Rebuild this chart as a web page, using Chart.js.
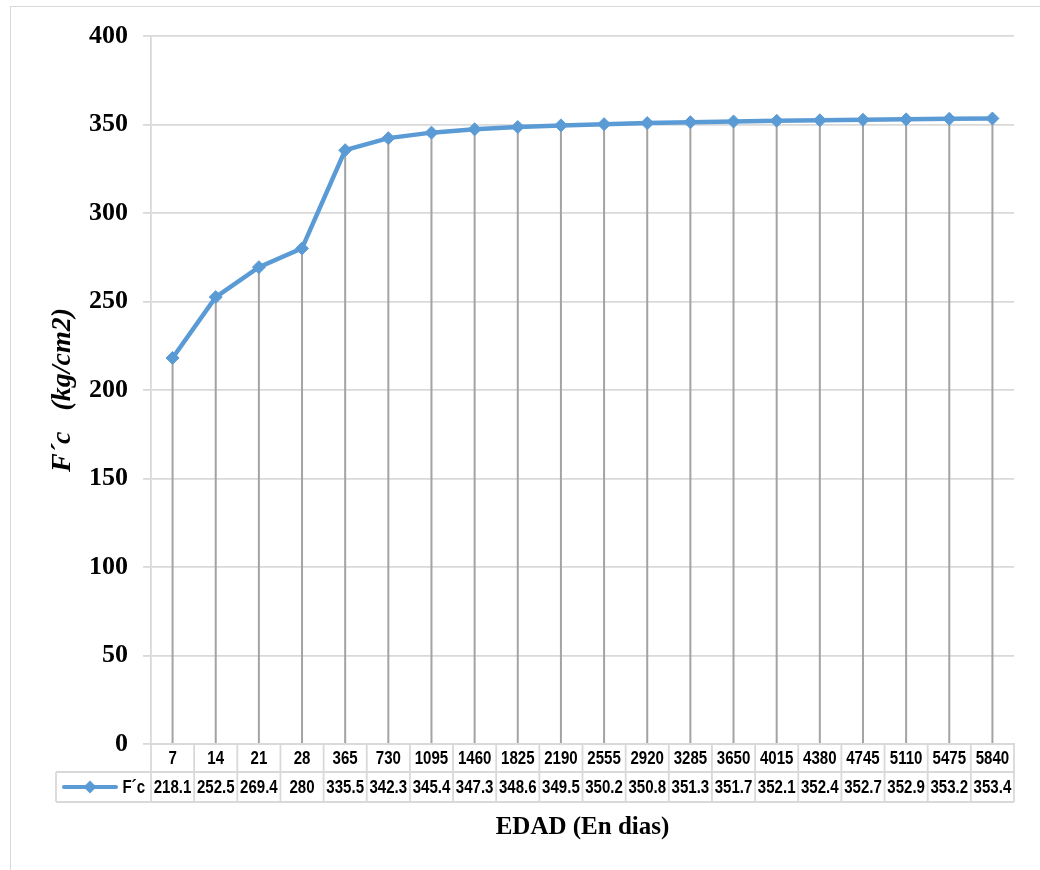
<!DOCTYPE html>
<html>
<head>
<meta charset="utf-8">
<script src="https://cdn.jsdelivr.net/npm/chart.js@4/dist/chart.umd.min.js"></script>
<style>
  html, body { margin: 0; padding: 0; background: #ffffff; }
  #wrap { position: relative; width: 1040px; height: 870px; overflow: hidden; }
  #frame { position: absolute; left: 10px; top: 6px; width: 1100px; height: 1000px;
           border: 1.5px solid #d9d9d9; box-sizing: border-box; }
  #c { position: absolute; left: 0; top: 0; }
</style>
</head>
<body>
<div id="wrap">
  <div id="frame"></div>
  <canvas id="c" width="1040" height="870"></canvas>
</div>
<script>
// Age of the concrete (days) and compressive strength F´c (kg/cm2)
const edadDias = ['7', '14', '21', '28', '365', '730', '1095', '1460', '1825', '2190',
                  '2555', '2920', '3285', '3650', '4015', '4380', '4745', '5110', '5475', '5840'];
const resistencia = [218.1, 252.5, 269.4, 280, 335.5, 342.3, 345.4, 347.3, 348.6, 349.5,
                     350.2, 350.8, 351.3, 351.7, 352.1, 352.4, 352.7, 352.9, 353.2, 353.4];
const serieNombre = 'F´c';
const yTicks = [0, 50, 100, 150, 200, 250, 300, 350, 400];

const LINE_COLOR = '#5b9bd5';
const GRID_COLOR = '#d9d9d9';
const DROP_COLOR = '#a3a3a3';

// Vertical drop lines from each point down to the category axis
const dropLines = {
  id: 'dropLines',
  beforeDatasetsDraw(chart) {
    const ctx = chart.ctx;
    const y = chart.scales.y;
    const base = y.getPixelForValue(0);
    const meta = chart.getDatasetMeta(0);
    ctx.save();
    ctx.strokeStyle = DROP_COLOR;
    ctx.lineWidth = 2;
    meta.data.forEach(pt => {
      ctx.beginPath();
      ctx.moveTo(pt.x, pt.y);
      ctx.lineTo(pt.x, base);
      ctx.stroke();
    });
    ctx.restore();
  }
};

// Data table under the category axis (labels row + values row + legend key)
const dataTable = {
  id: 'dataTable',
  afterDraw(chart) {
    const ctx = chart.ctx;
    const x = chart.scales.x;
    const n = edadDias.length;
    const colW = (x.right - x.left) / n;
    const top = chart.scales.y.getPixelForValue(0);
    const mid = top + 28;
    const bot = mid + 30;
    const keyLeft = 56;

    ctx.save();
    ctx.strokeStyle = GRID_COLOR;
    ctx.lineWidth = 1.8;
    ctx.beginPath();
    // horizontal rules
    ctx.moveTo(x.left, top); ctx.lineTo(x.right, top);
    ctx.moveTo(keyLeft, mid); ctx.lineTo(x.right, mid);
    ctx.moveTo(keyLeft, bot); ctx.lineTo(x.right, bot);
    // vertical rules
    for (let i = 0; i <= n; i++) {
      const xx = x.left + i * colW;
      ctx.moveTo(xx, top); ctx.lineTo(xx, bot);
    }
    ctx.moveTo(keyLeft, mid); ctx.lineTo(keyLeft, bot);
    ctx.stroke();

    // cell texts
    ctx.fillStyle = '#000000';
    ctx.font = 'bold 17.5px "Liberation Sans", Arial, sans-serif';
    ctx.textBaseline = 'middle';
    const put = (txt, cx, cy, align) => {
      ctx.save();
      ctx.translate(cx, cy);
      ctx.scale(0.86, 1);
      ctx.textAlign = align || 'center';
      ctx.fillText(txt, 0, 0);
      ctx.restore();
    };
    for (let i = 0; i < n; i++) {
      const cx = x.left + (i + 0.5) * colW;
      put(edadDias[i], cx, (top + mid) / 2 + 1);
      put(String(resistencia[i]), cx, (mid + bot) / 2 + 1);
    }
    put(serieNombre, x.left - 6, (mid + bot) / 2 + 1, 'right');

    // legend key: line with diamond marker
    const ky = (mid + bot) / 2;
    ctx.strokeStyle = LINE_COLOR;
    ctx.lineWidth = 4;
    ctx.lineCap = 'round';
    ctx.beginPath();
    ctx.moveTo(64, ky); ctx.lineTo(116, ky);
    ctx.stroke();
    ctx.fillStyle = LINE_COLOR;
    ctx.beginPath();
    const r = 6.5, kx = 90;
    ctx.moveTo(kx, ky - r); ctx.lineTo(kx + r, ky); ctx.lineTo(kx, ky + r); ctx.lineTo(kx - r, ky);
    ctx.closePath();
    ctx.fill();
    ctx.restore();
  }
};

new Chart(document.getElementById('c'), {
  type: 'line',
  data: {
    labels: edadDias,
    datasets: [{
      label: serieNombre,
      data: resistencia,
      borderColor: LINE_COLOR,
      backgroundColor: LINE_COLOR,
      borderWidth: 4.5,
      pointStyle: 'rectRot',
      pointRadius: 6.5,
      pointBorderWidth: 1,
      pointBackgroundColor: LINE_COLOR,
      pointBorderColor: LINE_COLOR,
      tension: 0,
      fill: false
    }]
  },
  options: {
    responsive: false,
    animation: false,
    layout: { padding: { top: 36, right: 26, bottom: 0, left: 0 } },
    plugins: {
      legend: { display: false },
      tooltip: { enabled: false }
    },
    scales: {
      x: {
        type: 'category',
        offset: true,
        grid: { display: false },
        border: { display: true, color: GRID_COLOR, width: 1.8 },
        ticks: { display: false },
        title: {
          display: true,
          text: 'EDAD (En dias)',
          color: '#000000',
          font: { family: '"Liberation Serif", "Times New Roman", serif', size: 25, weight: 'bold' },
          padding: { top: 0, bottom: 27 }
        },
        afterFit(scale) { scale.height = 126; }
      },
      y: {
        min: 0,
        max: 400,
        afterBuildTicks(scale) { scale.ticks = yTicks.map(v => ({ value: v })); },
        grid: { color: GRID_COLOR, lineWidth: 1.8, tickLength: 8, drawTicks: true },
        border: { display: true, color: GRID_COLOR, width: 1.8 },
        ticks: {
          color: '#000000',
          padding: 15,
          font: { family: '"Liberation Serif", "Times New Roman", serif', size: 26, weight: 'bold' }
        },
        title: {
          display: true,
          text: 'F´c   (kg/cm2)',
          color: '#000000',
          font: { family: '"Liberation Serif", "Times New Roman", serif', size: 28, weight: 'bold', style: 'italic' },
          padding: { top: 46, bottom: 0 }
        },
        afterFit(scale) { scale.width = 151; }
      }
    }
  },
  plugins: [dropLines, dataTable]
});
</script>
</body>
</html>
